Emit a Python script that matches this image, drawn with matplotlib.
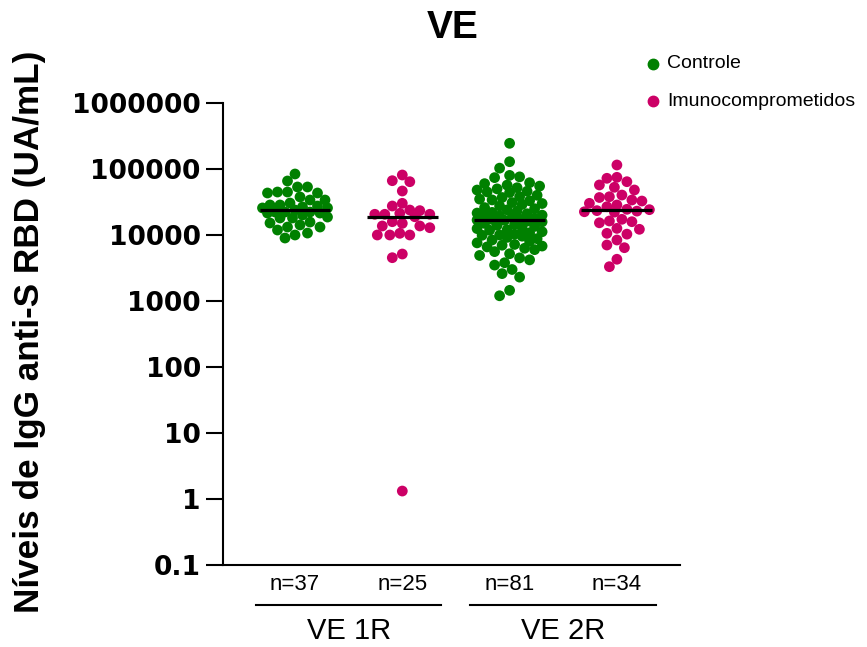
import numpy as np
import matplotlib
matplotlib.use("Agg")
import matplotlib.pyplot as plt
from matplotlib.lines import Line2D
from matplotlib.transforms import blended_transform_factory

# anti-S RBD IgG levels (UA/mL)
ve1_controle = [84000, 65800, 53400, 53400, 44800, 44800, 43300, 43300, 37700, 33900,
                33900, 30500, 28500, 28500, 27500, 26600, 25700, 25700, 23900, 22300,
                22300, 22300, 21500, 21500, 20100, 18700, 18100, 18100, 15700, 15200,
                14200, 13200, 13200, 11900, 10700, 10000, 9000]
ve1_imuno = [81100, 66500, 64200, 46400, 30200, 27500, 23900, 23400, 21300, 20600,
             20600, 20600, 18900, 15900, 15000, 13700, 13700, 12900, 10600, 10000,
             10000, 10000, 5150, 4530, 1.32]
ve2_controle = [245000, 129000, 103000, 80000, 76000, 74000, 62000, 60000, 57000, 55000,
                52000, 50000, 48000, 46000, 45000, 44000, 40000, 38000, 37000, 35000,
                34000, 33000, 31000, 30000, 29000, 27500, 26000, 25000, 24000, 23000,
                22000, 21500, 21000, 20000, 19500, 19000, 18500, 18000, 17500, 17200,
                16900, 16700, 16200, 15800, 15000, 14500, 14000, 13500, 13000, 12500,
                12000, 11800, 11200, 10800, 10300, 10000, 9900, 9600, 9200, 8800,
                8400, 8000, 7600, 7200, 7000, 6800, 6600, 6300, 6000, 5600,
                5200, 4900, 4500, 4200, 3800, 3500, 3000, 2600, 2300, 1450, 1200]
ve2_imuno = [115000, 74800, 72300, 64200, 57300, 52800, 48100, 40300, 38000, 37000,
             33900, 32700, 30200, 28500, 26800, 24500, 24200, 23400, 23000, 22500,
             22200, 17300, 16300, 15900, 15300, 12600, 12200, 10600, 10300, 8400,
             7050, 6420, 4290, 3310]

series = ["Controle", "Imunocomprometidos"]
colors = {"Controle": "#008000", "Imunocomprometidos": "#CC0066"}
groups = ["VE 1R", "VE 2R"]
columns = [(ve1_controle, "Controle"), (ve1_imuno, "Imunocomprometidos"),
           (ve2_controle, "Controle"), (ve2_imuno, "Imunocomprometidos")]
yticks = [0.1, 1, 10, 100, 1000, 10000, 100000, 1000000]
ytick_labels = ["0.1", "1", "10", "100", "1000", "10000", "100000", "1000000"]

W, H = 867, 647
fig = plt.figure(figsize=(W / 100, H / 100), dpi=100)
ax_l, ax_r, ax_t, ax_b = 223, 680, 103, 565
ax = fig.add_axes([ax_l / W, 1 - ax_b / H, (ax_r - ax_l) / W, (ax_b - ax_t) / H])
ax.set_yscale("log")
ax.set_ylim(0.1, 1e6)
step = 107.3
ax.set_xlim((ax_l - 295) / step, (ax_r - 295) / step)


def swarm(values, center, diam=10.0, max_half=34.0):
    px_per_x = (ax_r - ax_l) / (ax.get_xlim()[1] - ax.get_xlim()[0])
    ys = ax.transData.transform(np.column_stack([np.zeros(len(values)), values]))[:, 1]
    cands = [0.0]
    for k in np.arange(diam / 4, max_half + 0.01, diam / 4):
        cands += [-k, k]
    offs = np.zeros(len(values))
    placed = []
    for i in np.argsort(-ys):
        best, best_d = 0.0, -1
        for c in cands:
            if placed:
                p = np.array(placed)
                dmin = np.min(np.hypot(p[:, 0] - c, p[:, 1] - ys[i]))
            else:
                dmin = np.inf
            if dmin >= diam:
                best = c
                break
            if dmin > best_d:
                best, best_d = c, dmin
        offs[i] = best
        placed.append((best, ys[i]))
    return center + offs / px_per_x


for i, (vals, name) in enumerate(columns):
    xs = swarm(vals, i)
    ax.scatter(xs, vals, s=60, color=colors[name], edgecolors="none", zorder=2, clip_on=False)
    ax.hlines(np.median(vals), i - 0.33, i + 0.33, color="black", lw=2.3, zorder=3)

for s in ["top", "right"]:
    ax.spines[s].set_visible(False)
for s in ["left", "bottom"]:
    ax.spines[s].set_linewidth(1.5)
ax.set_xticks([])
ax.yaxis.set_minor_locator(plt.NullLocator())
ax.set_yticks(yticks)
ax.set_yticklabels(ytick_labels, fontsize=19, fontweight="bold", family="DejaVu Sans")
ax.tick_params(axis="y", length=12, width=1.5, pad=4)

fig.text(30 / W, 1 - 332 / H, "Níveis de IgG anti-S RBD (UA/mL)", rotation=90,
         ha="center", va="center", fontsize=25.3, fontweight="bold", family="Liberation Sans")
fig.text(453 / W, 1 - 28 / H, "VE", ha="center", va="center", fontsize=28,
         fontweight="bold", family="Liberation Sans")

# legend
for k, name in enumerate(series):
    yy = 1 - (64 + 37 * k) / H
    fig.add_artist(Line2D([653 / W], [yy], marker="o", markersize=7.5, color=colors[name],
                          linestyle="none"))
    fig.text(667 / W, yy, name, ha="left", va="center", fontsize=14, family="Liberation Sans")

# n labels and group brackets
tr = blended_transform_factory(ax.transData, fig.transFigure)
for i, (vals, name) in enumerate(columns):
    ax.text(i, 1 - 585 / H, "n=%d" % len(vals), transform=tr, ha="center", va="center",
            fontsize=16, family="Liberation Sans", clip_on=False)
for g, label in enumerate(groups):
    a, b = 2 * g, 2 * g + 1
    ax.add_line(Line2D([a - 0.365, b + 0.365], [1 - 605 / H] * 2, transform=tr,
                       color="black", lw=1.5, clip_on=False))
    ax.text((a + b) / 2, 1 - 631 / H, label, transform=tr, ha="center", va="center",
            fontsize=21, family="Liberation Sans", clip_on=False)

fig.savefig("out.png", dpi=100)
